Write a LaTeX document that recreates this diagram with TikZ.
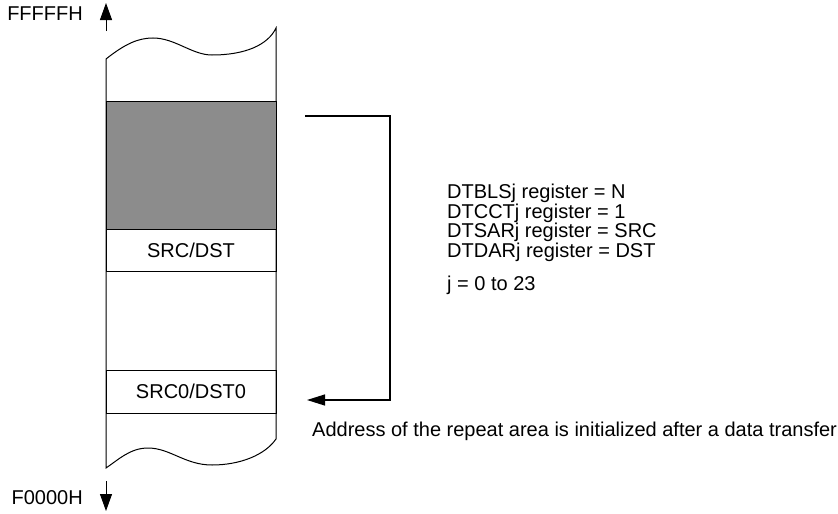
\documentclass[tikz,border=0pt]{standalone}
\usepackage{fontspec}
\setmainfont{Liberation Sans}
\usetikzlibrary{arrows.meta,positioning}
\definecolor{memgray}{RGB}{140,140,140}

\begin{document}
\begin{tikzpicture}[x=1pt,y=-1pt,
  lbl/.style={font=\fontsize{20}{18.4}\selectfont,inner sep=0pt},
  cell/.style={draw=black,line width=1pt,minimum width=170pt,inner sep=0pt,
    font=\fontsize{20}{18.4}\selectfont},
  addrarrow/.style={-{Triangle[length=18pt,width=11pt]},line width=1.3pt},
  endarrow/.style={-{Triangle[length=17pt,width=12pt]},line width=1pt}]
\useasboundingbox (0,0) rectangle (838,514);
% memory column with broken ends
\path[draw=black,line width=1pt,fill=white]
  (106,59) .. controls (125,44) and (138,38) .. (153,38)
  .. controls (175,38) and (192,55) .. (212,55)
  .. controls (245,55) and (268,45) .. (276,28)
  -- (276,439)
  .. controls (265,455) and (240,465) .. (212,465)
  .. controls (185,465) and (170,448) .. (148,448)
  .. controls (130,448) and (118,460) .. (106,468)
  -- cycle;
% areas in the column
\node[cell,fill=memgray,minimum height=128pt] (blk) at (191,165) {};
\node[cell,minimum height=42pt] (src) at (191,250) {SRC/DST};
\node[cell,minimum height=43pt] (src0) at (191,391.5) {SRC0/DST0};
% address ends
\node[lbl,anchor=east] (hi) at (83,14) {FFFFFH};
\node[lbl,anchor=east] (lo) at (83,498) {F0000H};
\coordinate (hiA) at (106,31);
\coordinate (hiB) at (106,3);
\coordinate (loA) at (106,481);
\coordinate (loB) at (106,511);
\draw[endarrow] (hiA) -- (hiB);
\draw[endarrow] (loA) -- (loB);
% repeat area
\coordinate (brkS) at (305,116);
\coordinate (brkE) at (307,400);
\draw[addrarrow] (brkS) -- ++(85,0) |- (brkE);
\node[lbl,anchor=north west,align=left] (regs) at (447,184)
  {DTBLSj register = N\\DTCCTj register = 1\\DTSARj register = SRC\\DTDARj register = DST};
\node[lbl,anchor=north west] (jrange) at (447,276) {j = 0 to 23};
\node[lbl,anchor=west] (note) at (312,431)
  {Address of the repeat area is initialized after a data transfer};
\end{tikzpicture}
\end{document}
